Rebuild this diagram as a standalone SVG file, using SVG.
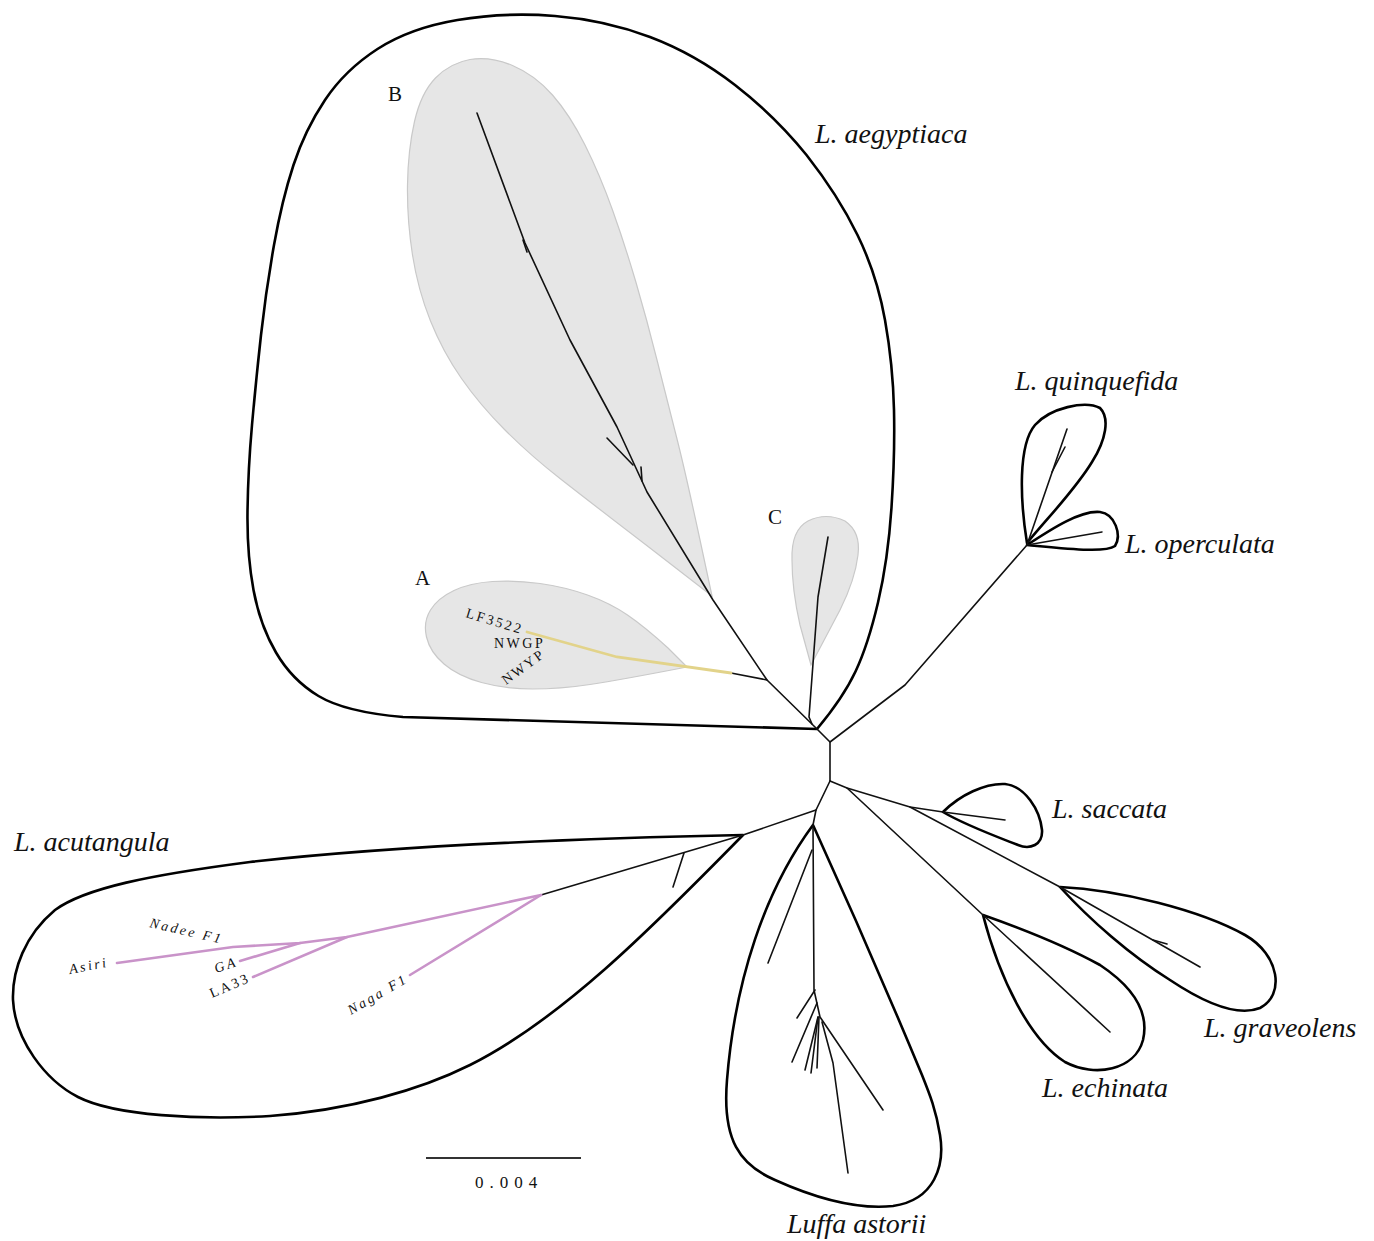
<svg xmlns="http://www.w3.org/2000/svg" width="1374" height="1241" viewBox="0 0 1374 1241">
<style>
.env{fill:none;stroke:#000;stroke-width:2.6;stroke-linejoin:round}
.sub{fill:#e6e6e6;stroke:#c9c9c9;stroke-width:1.2}
.br{fill:none;stroke:#111;stroke-width:1.6;stroke-linejoin:round;stroke-linecap:round}
.ylw{fill:none;stroke:#e2d38a;stroke-width:2.8;stroke-linecap:round}
.pur{fill:none;stroke:#c993c9;stroke-width:2.6;stroke-linecap:round;stroke-linejoin:round}
.sp{font-family:"Liberation Serif","DejaVu Serif",serif;font-style:italic;font-size:28px;fill:#111}
.cl{font-family:"Liberation Serif","DejaVu Serif",serif;font-size:21px;fill:#111}
.tip{font-family:"Liberation Serif","DejaVu Serif",serif;font-size:14px;letter-spacing:2.5px;fill:#111}
.it{font-style:italic}
</style>
<rect width="1374" height="1241" fill="#fff"/>

<g id="clade-aegyptiaca">
<path class="env" d="M 817,729 L 403,717 Q 345,712 318.5,696 Q 292,680 276,652.5 Q 260,625 253.5,590 Q 247,555 247.5,512.5 Q 248,470 252,425 Q 256,380 261,335 Q 266,290 274,245 Q 282,200 293.5,165 Q 305,130 325,100 Q 345,70 377.5,49 Q 410,28 457.5,20 Q 505,12 555,16 Q 605,20 650,37 Q 695,54 735,85 Q 775,116 806.5,155 Q 838,195 857.5,235 Q 877,275 885,320 Q 893,365 894,410 Q 895,455 891.5,507.5 Q 888,560 878,602.5 Q 868,645 855.5,671.5 Q 843,698 817,729 Z"/>
<text class="sp" x="815" y="143">L. aegyptiaca</text>
</g>

<g id="subclade-B">
<path class="sub" d="M 712,596 L 700,540 Q 685,470 676,435 Q 667,400 657,360 Q 647,320 636,282.5 Q 625,245 612.5,210 Q 600,175 585,145 Q 570,115 552.5,95 Q 535,75 512.5,65.5 Q 490,56 470,59.5 Q 450,63 435.5,78 Q 421,93 414.5,121.5 Q 408,150 407.5,185 Q 407,220 412.5,255 Q 418,290 430.5,321 Q 443,352 461.5,378.5 Q 480,405 505,430 Q 530,455 560,478.5 Q 590,502 650,548 L 712,596 Z"/>
<text class="cl" x="388" y="101">B</text>
</g>

<g id="subclade-A">
<path class="sub" d="M 687,667 L 668,648 Q 645,627 627.5,615 Q 610,603 587.5,595 Q 565,587 540,583.5 Q 515,580 492.5,581.5 Q 470,583 454,590.5 Q 438,598 430.5,610 Q 423,622 426.5,637 Q 430,652 444,664 Q 458,676 481.5,682.5 Q 505,689 532.5,689 Q 560,689 590,684.5 Q 620,680 687,667 Z"/>
<text class="cl" x="415" y="585">A</text>
<text class="tip" transform="translate(465,617) rotate(17)">LF3522</text>
<text class="tip" x="494" y="648">NWGP</text>
<text class="tip" transform="translate(506,685) rotate(-36)" style="letter-spacing:2px">NWYP</text>
</g>

<g id="subclade-C">
<path class="sub" d="M 811,665 L 800,625 Q 792,590 792,560 Q 791,530 808,521 Q 826,512 845,521 Q 861,532 858,555 Q 855,580 840,610 L 811,665 Z"/>
<text class="cl" x="768" y="524">C</text>
</g>

<g id="clade-quinquefida">
<path class="env" d="M 1027,543 C 1020,500 1018,445 1035,425 C 1050,408 1085,400 1100,408 C 1110,418 1106,440 1092,462 C 1075,490 1050,515 1027,543 Z"/>
<text class="sp" x="1015" y="390">L. quinquefida</text>
</g>

<g id="clade-operculata">
<path class="env" d="M 1027,545 C 1050,530 1080,510 1100,512 C 1115,514 1122,535 1115,546 C 1105,553 1070,549 1027,545 Z"/>
<text class="sp" x="1125" y="553">L. operculata</text>
</g>

<g id="clade-saccata">
<path class="env" d="M 943,812 C 960,795 985,783 1005,784 C 1025,786 1040,810 1042,830 C 1043,845 1030,850 1018,845 C 995,836 965,825 943,812 Z"/>
<text class="sp" x="1052" y="818">L. saccata</text>
</g>

<g id="clade-graveolens">
<path class="env" d="M 1060,887 C 1120,890 1200,910 1245,935 C 1280,955 1285,995 1260,1008 C 1235,1018 1200,1000 1170,980 C 1130,955 1090,920 1060,887 Z"/>
<text class="sp" x="1204" y="1037">L. graveolens</text>
</g>

<g id="clade-echinata">
<path class="env" d="M 983,915 C 1000,980 1030,1040 1065,1062 C 1095,1078 1135,1070 1143,1040 C 1150,1010 1130,985 1100,965 C 1060,943 1020,928 983,915 Z"/>
<text class="sp" x="1042" y="1097">L. echinata</text>
</g>

<g id="clade-astorii">
<path class="env" d="M 813,825 C 765,890 735,980 727,1080 C 722,1140 740,1165 775,1180 C 815,1198 855,1210 893,1206 C 935,1200 945,1165 940,1135 C 936,1110 930,1095 922,1075 Q 870,950 813,825 Z"/>
<text class="sp" x="787" y="1233">Luffa astorii</text>
</g>

<g id="clade-acutangula">
<path class="env" d="M 743,835 C 600,838 400,845 250,862 C 150,875 85,888 55,910 C 25,935 12,970 13,1000 C 15,1040 45,1080 78,1097 C 115,1116 200,1120 270,1116 C 350,1110 420,1090 470,1065 C 560,1020 650,930 743,835 Z"/>
<text class="sp" x="14" y="851">L. acutangula</text>
<text class="tip it" transform="translate(149,927) rotate(13)">Nadee F1</text>
<text class="tip it" transform="translate(70,974) rotate(-11)">Asiri</text>
<text class="tip it" transform="translate(216,973) rotate(-18)">GA</text>
<text class="tip" transform="translate(212,998) rotate(-23)">LA33</text>
<text class="tip it" transform="translate(351,1015) rotate(-30)">Naga F1</text>
</g>

<g id="connectors">
<polyline class="br" points="817,729 830,742 830,781"/>
<polyline class="br" points="830,742 905,685 1027,545 1067,429"/>
<line class="br" x1="1052" y1="472" x2="1065" y2="447"/>
<line class="br" x1="1027" y1="545" x2="1102" y2="532"/>
<polyline class="br" points="830,781 847,788 910,807 943,812 1005,820"/>
<polyline class="br" points="910,807 1060,887 1200,967"/>
<line class="br" x1="1153" y1="940" x2="1167" y2="944"/>
<polyline class="br" points="847,788 983,915 1110,1032"/>
<polyline class="br" points="830,781 816,810 813,825 814,990 820,1017 883,1110"/>
<line class="br" x1="816" y1="810" x2="743" y2="835"/>
<line class="br" x1="812" y1="850" x2="768" y2="963"/>
<line class="br" x1="815" y1="990" x2="797" y2="1018"/>
<line class="br" x1="817" y1="1003" x2="792" y2="1062"/>
<line class="br" x1="818" y1="1017" x2="805" y2="1070"/>
<line class="br" x1="818" y1="1017" x2="811" y2="1073"/>
<line class="br" x1="819" y1="1017" x2="817" y2="1068"/>
<polyline class="br" points="822,1022 833,1063 848,1173"/>
<polyline class="br" points="743,835 541,895"/>
<line class="br" x1="684" y1="853" x2="673" y2="887"/>
<polyline class="pur" points="541,895 347,937 300,943 233,947 117,963"/>
<line class="pur" x1="347" y1="937" x2="253" y2="977"/>
<line class="pur" x1="300" y1="943" x2="240" y2="961"/>
<line class="pur" x1="541" y1="895" x2="410" y2="975"/>
<polyline class="br" points="817,729 767,680 713,600 647,492 617,427 570,340 525,243 477,113"/>
<line class="br" x1="607" y1="438" x2="633" y2="465"/>
<line class="br" x1="641" y1="467" x2="642" y2="481"/>
<line class="br" x1="523" y1="240" x2="527" y2="252"/>
<polyline class="br" points="767,680 731,673"/>
<polyline class="ylw" points="731,673 617,657 527,632"/>
<polyline class="br" points="828,537 818,597 809,717 812,724"/>
</g>

<g id="scale-bar">
<line x1="426" y1="1158" x2="581" y2="1158" stroke="#333" stroke-width="2"/>
<text class="cl" x="475" y="1188" style="font-size:17px;letter-spacing:6px">0.004</text>
</g>
</svg>
